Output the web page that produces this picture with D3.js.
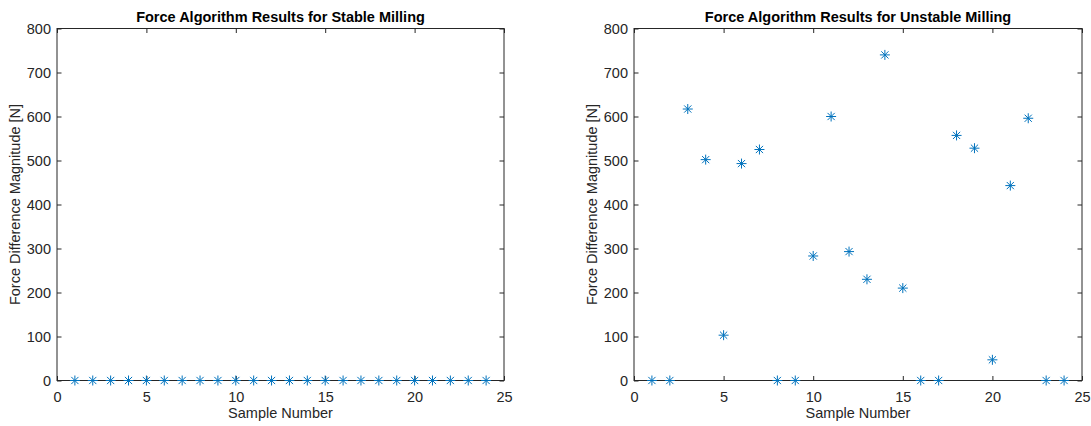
<!DOCTYPE html>
<html>
<head>
<meta charset="utf-8">
<script src="https://cdn.jsdelivr.net/npm/d3@7/dist/d3.min.js"></script>
<style>
  html, body { margin: 0; padding: 0; background: #fff; }
  svg { display: block; }
  text { font-family: "Liberation Sans", Arial, Helvetica, sans-serif; fill: #262626; }
</style>
</head>
<body>
<svg id="chart" width="1091" height="426"></svg>
<script>
// Sample numbers measured in each milling test
const samples = d3.range(1, 25);

// Force difference magnitude [N] for each sample
const stableForce = [0, 0, 0, 0, 0, 0, 0, 0, 0, 0, 0, 0,
                     0, 0, 0, 0, 0, 0, 0, 0, 0, 0, 0, 0];
const unstableForce = [0, 0, 617, 502, 103, 493, 525, 0, 0, 283, 600, 293,
                       230, 740, 210, 0, 0, 557, 528, 47, 443, 596, 0, 0];

// Axis tick values
const xTicks = [0, 5, 10, 15, 20, 25];
const yTicks = [0, 100, 200, 300, 400, 500, 600, 700, 800];

const titles = [
  "Force Algorithm Results for Stable Milling",
  "Force Algorithm Results for Unstable Milling"
];
const xLabel = "Sample Number";
const yLabel = "Force Difference Magnitude [N]";

const axisColor = "#262626";
const markerColor = "#0072BD";

const svg = d3.select("#chart");

const panels = [
  { left: 57, right: 504, values: stableForce, title: titles[0] },
  { left: 634, right: 1082, values: unstableForce, title: titles[1] }
];
const plotTop = 28.5, plotBottom = 380.5;

panels.forEach(p => {
  const x = d3.scaleLinear().domain([0, 25]).range([p.left, p.right]);
  const y = d3.scaleLinear().domain([0, 800]).range([plotBottom, plotTop]);
  const g = svg.append("g");

  // Box outline
  g.append("rect")
    .attr("x", p.left).attr("y", plotTop)
    .attr("width", p.right - p.left).attr("height", plotBottom - plotTop)
    .attr("fill", "none").attr("stroke", axisColor).attr("stroke-width", 1);

  const tickLen = 4.5;

  // Bottom axis with inward ticks
  const xb = g.append("g").attr("transform", `translate(0,${plotBottom})`)
    .call(d3.axisBottom(x).tickValues(xTicks).tickFormat(d3.format("d"))
      .tickSizeInner(-tickLen).tickSizeOuter(0).tickPadding(11));
  // Top axis (ticks only)
  const xt = g.append("g").attr("transform", `translate(0,${plotTop})`)
    .call(d3.axisTop(x).tickValues(xTicks).tickFormat("")
      .tickSizeInner(-tickLen).tickSizeOuter(0));
  // Left axis with inward ticks
  const yl = g.append("g").attr("transform", `translate(${p.left},0)`)
    .call(d3.axisLeft(y).tickValues(yTicks).tickFormat(d3.format("d"))
      .tickSizeInner(-tickLen).tickSizeOuter(0).tickPadding(6));
  // Right axis (ticks only)
  const yr = g.append("g").attr("transform", `translate(${p.right},0)`)
    .call(d3.axisRight(y).tickValues(yTicks).tickFormat("")
      .tickSizeInner(-tickLen).tickSizeOuter(0));

  [xb, xt, yl, yr].forEach(a => {
    a.select(".domain").remove();
    a.selectAll("line").attr("stroke", axisColor);
    a.selectAll("text")
      .attr("fill", axisColor)
      .style("font-family", '"Liberation Sans", Arial, sans-serif')
      .style("font-size", "14.5px");
  });

  // Title
  g.append("text")
    .attr("x", (p.left + p.right) / 2).attr("y", 22)
    .attr("text-anchor", "middle")
    .style("font-size", "14.5px").style("font-weight", "bold")
    .style("fill", "#000")
    .text(p.title);

  // X label
  g.append("text")
    .attr("x", (p.left + p.right) / 2).attr("y", 418)
    .attr("text-anchor", "middle")
    .style("font-size", "14.5px")
    .text(xLabel);

  // Y label
  g.append("text")
    .attr("transform", `translate(${p.left - 37},${(plotTop + plotBottom) / 2}) rotate(-90)`)
    .attr("text-anchor", "middle")
    .style("font-size", "14.5px")
    .text(yLabel);

  // Asterisk markers
  const r = 5, d = r * 0.72;
  const star = `M${-r},0L${r},0M0,${-r}L0,${r}M${-d},${-d}L${d},${d}M${-d},${d}L${d},${-d}`;
  g.append("g").selectAll("path")
    .data(samples.map((s, i) => [s, p.values[i]]))
    .join("path")
    .attr("transform", v => `translate(${x(v[0])},${y(v[1])})`)
    .attr("d", star)
    .attr("fill", "none")
    .attr("stroke", markerColor)
    .attr("stroke-width", 1);
});
</script>
</body>
</html>
